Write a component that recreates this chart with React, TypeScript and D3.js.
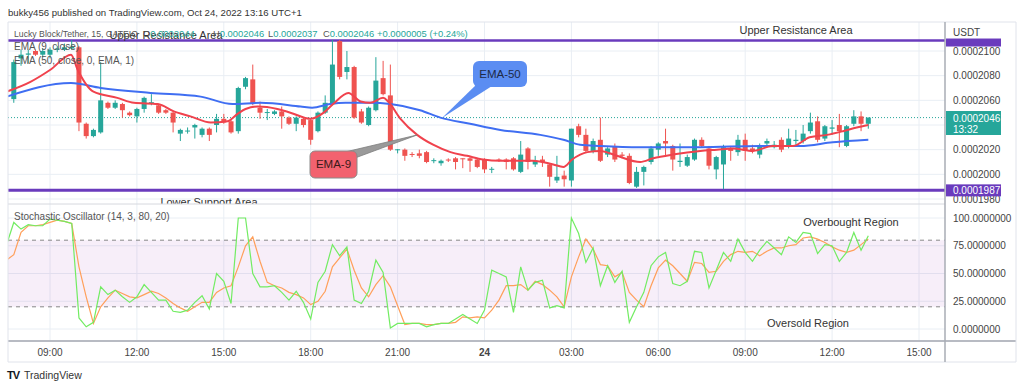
import React from "react";
import * as d3 from "d3";

// 15 min bars, Lucky Block / Tether, prices in 1e-7 USDT
const opens = [2061, 2094, 2097, 2100, 2097, 2097, 2101, 2101, 2102, 2103, 2041, 2031, 2034, 2058, 2054, 2057, 2050, 2047, 2053, 2058,
  2056, 2052, 2050, 2033, 2035, 2038, 2032, 2037, 2040, 2045, 2043, 2035, 2071, 2077, 2054, 2050, 2049, 2051, 2046, 2041,
  2045, 2044, 2035, 2050, 2057, 2108, 2083, 2087, 2051, 2040, 2052, 2078, 2064, 2020, 2020, 2016.5, 2017, 2018, 2011, 2009,
  2012, 2013, 2013, 2013, 2012, 2012, 2004, 2012, 2012, 2013, 2002, 2021, 2008, 2012, 2008, 1995, 1999, 1995, 2039, 2032,
  2019, 2028, 2016, 2023, 2016, 2015, 1990, 2002, 2010, 2020, 2027, 2023, 2010, 2007, 2012, 2028, 2021, 2004, 2008, 2021,
  2018, 2028, 2021, 2016, 2025, 2022, 2028, 2023, 2027, 2027, 2035, 2043, 2029, 2037, 2040, 2023, 2041, 2047, 2041];
const highs = [2093, 2101, 2101, 2101, 2102, 2103, 2104, 2106, 2109, 2104, 2042, 2037, 2091, 2059, 2060, 2058, 2051, 2054, 2063, 2065,
  2057, 2053, 2051, 2037, 2038, 2041, 2038, 2038, 2049, 2049, 2044, 2071, 2079, 2089, 2059, 2053, 2052, 2055, 2047, 2047,
  2046, 2045, 2051, 2064, 2109, 2109, 2100, 2088, 2053, 2055, 2095, 2092, 2089, 2020.5, 2021, 2018, 2020, 2019, 2013, 2012,
  2013, 2014, 2013, 2014, 2013, 2013, 2006, 2013, 2013, 2014, 2027, 2022, 2015, 2015, 2009, 2015, 2003, 2037, 2041, 2037,
  2029, 2046, 2022, 2025, 2018, 2017, 2006, 2007, 2023, 2026, 2037, 2024, 2025, 2016, 2029, 2030, 2023, 2015, 2024, 2023,
  2032, 2033, 2024, 2025, 2029, 2027, 2030, 2037, 2036, 2040, 2050, 2047, 2040, 2044, 2049, 2040, 2052, 2051, 2046];
const lows = [2058, 2088, 2090, 2096, 2095, 2094, 2099, 2100, 2101, 2035, 2029, 2030, 2033, 2053, 2053, 2046, 2047, 2042, 2050, 2056,
  2049, 2049, 2034, 2027, 2033, 2029, 2030, 2027, 2034, 2041, 2033, 2033, 2069, 2056, 2045, 2044, 2048, 2037, 2040, 2035,
  2038, 2024, 2034, 2049, 2056, 2077, 2077, 2045, 2041, 2039, 2051, 2064, 2019, 2017, 2011, 2014, 2013, 2009, 2009, 2007,
  2010, 2004, 2005, 2002, 2005, 2001, 2001, 2010, 2004, 2003, 2001, 2004, 2006, 2006, 1990, 1993, 1990, 1990, 2030, 2018,
  2017, 2010, 2014, 2010, 2013, 1992, 1989, 1991, 2008, 2015, 2015, 2003, 2006, 2006, 2011, 2022, 2004, 1996, 1988, 2011,
  2015, 2011, 2017, 2013, 2023, 2021, 2018, 2021, 2024, 2025, 2033, 2026, 2027, 2032, 2022, 2022, 2039, 2035, 2037];
const closes = [2091, 2097, 2098, 2097, 2100, 2101, 2102, 2103, 2103.5, 2042, 2031, 2036, 2060, 2054, 2058, 2052, 2048, 2053, 2062, 2058.5,
  2050, 2050, 2042, 2036, 2035.5, 2040, 2037, 2032, 2045, 2042, 2034, 2070, 2078, 2057, 2050, 2050.5, 2051, 2047, 2041, 2046,
  2040, 2028, 2050, 2058, 2089, 2079, 2087, 2046, 2042, 2054, 2076, 2065, 2020, 2020.3, 2015, 2016, 2015, 2010, 2011.5, 2011,
  2011.5, 2010, 2012.5, 2011, 2006, 2004, 2004.5, 2011.5, 2010, 2004, 2016, 2010, 2011, 2010, 1998, 1998, 1996, 2037, 2032, 2019,
  2027, 2011, 2021, 2012, 2015, 1993, 2002, 2006, 2021, 2025, 2025, 2012, 2011, 2014, 2028, 2023, 2007, 2014, 2022, 2019,
  2028, 2019, 2019, 2023, 2027, 2024, 2020, 2029, 2028, 2033, 2042, 2028, 2039, 2038, 2035, 2039, 2047, 2041, 2046];

// EMA lines: [bar index, value]
const ema9 = [[-1, 2067], [2.3, 2075], [5.1, 2085], [7.9, 2097], [8.8, 2085], [11, 2067], [14.3, 2062], [16.6, 2058], [19.9, 2057],
  [22.1, 2051], [24.4, 2047], [27.2, 2042], [29.5, 2043], [30.9, 2049], [32, 2053], [33.7, 2055], [36.4, 2053], [38.2, 2050],
  [41, 2045], [42.8, 2050], [44.1, 2057], [46.2, 2066], [47.9, 2059], [49.2, 2058], [51, 2062], [51.7, 2059], [53.4, 2045],
  [55.7, 2032], [57.9, 2024], [60.3, 2018], [62.6, 2015], [64.8, 2012], [67.2, 2011], [69.7, 2011], [71.7, 2011], [74.5, 2008],
  [75.9, 2006], [77.1, 2012], [79.2, 2018], [81, 2019], [83.3, 2015], [86.5, 2010], [88.3, 2013], [91, 2016], [94.8, 2019],
  [97.1, 2020], [99.3, 2021], [102.1, 2019], [104.8, 2023], [107.6, 2023], [109.9, 2030], [112.3, 2032], [114.5, 2035],
  [116.4, 2038], [118, 2040]];
const ema50 = [[-1, 2063], [7.9, 2074], [12, 2070], [18.9, 2066], [25.8, 2063], [30.2, 2057], [34.1, 2058], [39.6, 2055],
  [41.2, 2054], [43.7, 2057], [45.8, 2058], [49.2, 2058], [52, 2057], [56.1, 2052], [58.9, 2046], [63, 2041], [67.2, 2036],
  [72.7, 2032], [75.9, 2028], [78.2, 2024], [81, 2023], [86.5, 2022], [94.8, 2022], [103, 2023], [108.6, 2023], [113.1, 2026],
  [118, 2028]];

// stochastic, first value is the bar before the first candle
const stochK = [76, 96, 90, 94, 93, 93, 99, 98, 97, 95, 10, 2, 6, 38, 31, 35, 29, 24, 29, 40, 33, 26, 26, 16, 15, 17, 24, 30, 18, 50,
  43, 23, 100, 100, 50, 38, 38, 39, 33, 26, 34, 24, 9, 42, 52, 76, 66, 74, 26, 23, 34, 62, 51, 1, 5, 5, 5, 5, 2, 4, 5, 5, 9, 13,
  9, 5, 17, 53, 50, 47, 15, 56, 35, 42, 44, 19, 21, 19, 100, 86, 60, 73, 39, 57, 42, 52, 6, 20, 33, 57, 65, 69, 41, 39, 43, 70,
  69, 37, 53, 69, 61, 81, 69, 61, 71, 79, 73, 67, 83, 78, 87, 86, 68, 76, 75, 61, 69, 87, 71, 84];
const stochD = [62, 67, 87, 93, 93, 94, 96, 98, 97, 95, 56, 29, 5, 20, 28, 35, 32, 29, 28, 31, 34, 32, 28, 23, 19, 16, 20, 24, 24, 33,
  37, 39, 56, 75, 83, 61, 42, 39, 37, 33, 31, 28, 22, 25, 34, 56, 64, 72, 53, 37, 29, 40, 48, 38, 21, 4, 5, 5, 4, 4, 5, 5, 6, 11,
  10, 11, 10, 17, 26, 39, 39, 40, 35, 43, 40, 35, 29, 20, 47, 65, 81, 72, 58, 57, 47, 51, 33, 26, 20, 39, 55, 62, 57, 50, 43, 60,
  59, 51, 52, 61, 67, 70, 69, 70, 66, 70, 73, 73, 75, 76, 82, 83, 81, 78, 74, 71, 69, 71, 76, 81];

const priceTicks = [1980, 2000, 2020, 2040, 2060, 2080, 2100];
const stochTicks = [0, 25, 50, 75, 100];
const upperResistance = 2108.5;
const lowerSupport = 1987;
const lastPrice = 2046;

const GREEN = "#26a69a";
const RED = "#ef5350";
const PURPLE = "#6a3bbd";
const FONT = "'Liberation Sans', Arial, sans-serif";

const L = 8, R = 945, TOP = 22, PB = 204, SB = 341, AB = 362;

const t0 = new Date(2022, 9, 23, 7, 45);
const barTime = (i: number) => new Date(t0.getTime() + i * 15 * 60000);

export default function App() {
  const x = d3.scaleTime()
    .domain([new Date(2022, 9, 23, 9, 0), new Date(2022, 9, 24, 15, 0)])
    .range([50, 919]);
  const y = d3.scaleLinear().domain([1980, 2100]).range([199, 51]);
  const ys = d3.scaleLinear().domain([0, 100]).range([329, 218]);
  const bx = (i: number) => x(barTime(i));

  const timeTicks = d3.timeHour.every(3)!.range(new Date(2022, 9, 23, 9, 0), new Date(2022, 9, 24, 15, 1));
  const fmtTick = (d: Date) => d.getHours() === 0 ? d3.timeFormat("%-d")(d) : d3.timeFormat("%H:%M")(d);

  const emaLine = d3.line<number[]>().x(d => bx(d[0])).y(d => y(d[1])).curve(d3.curveMonotoneX);
  const stLine = d3.line<number>().x((d, i) => bx(i - 1)).y(d => ys(d));
  const fmtP = (v: number) => (v / 1e7).toFixed(7);

  const bw = 5;

  return (
    <svg width={1024} height={391} style={{ position: "absolute", left: 0, top: 0, background: "#fff" }}
      fontFamily={FONT}>
      <defs>
        <clipPath id="cp"><rect x={L} y={TOP} width={R - L} height={PB - TOP} /></clipPath>
        <clipPath id="cs"><rect x={L} y={PB + 1} width={R - L} height={SB - PB - 1} /></clipPath>
      </defs>
      <rect width={1024} height={391} fill="#fff" />
      <text x={8} y={16} fontSize={9.6} fill="#333">bukky456 published on TradingView.com, Oct 24, 2022 13:16 UTC+1</text>

      {/* grid */}
      {timeTicks.map((d, i) => (
        <line key={"vg" + i} x1={x(d)} x2={x(d)} y1={TOP} y2={SB} stroke="#e9eef4" />
      ))}
      {priceTicks.map(v => (
        <line key={"hg" + v} x1={L} x2={R} y1={y(v)} y2={y(v)} stroke="#e9eef4" />
      ))}
      {stochTicks.map(v => (
        <line key={"sg" + v} x1={L} x2={R} y1={ys(v)} y2={ys(v)} stroke="#e9eef4" />
      ))}

      {/* price panel */}
      <g clipPath="url(#cp)">
        <line x1={L} x2={R} y1={y(lastPrice)} y2={y(lastPrice)} stroke={GREEN} strokeDasharray="1,2" strokeWidth={1} />
        <line x1={L} x2={R} y1={y(upperResistance)} y2={y(upperResistance)} stroke={PURPLE} strokeWidth={2.5} />
        <line x1={L} x2={R} y1={y(lowerSupport)} y2={y(lowerSupport)} stroke={PURPLE} strokeWidth={3} />
        {opens.map((o, i) => {
          const c = closes[i];
          const col = c >= o ? GREEN : RED;
          const cx = bx(i);
          const yt = y(Math.max(o, c));
          const yb = y(Math.min(o, c));
          return (
            <g key={"c" + i}>
              <line x1={cx} x2={cx} y1={y(highs[i])} y2={y(lows[i])} stroke={col} strokeWidth={1} />
              <rect x={cx - bw / 2} y={yt} width={bw} height={Math.max(1, yb - yt)} fill={col} />
            </g>
          );
        })}
        <path d={emaLine(ema50)!} fill="none" stroke="#3f6ef2" strokeWidth={2} />
        <path d={emaLine(ema9)!} fill="none" stroke="#f0424d" strokeWidth={2} />
        <text x={166} y={39} fontSize={11} fill="#333" textAnchor="middle">Upper Resistance Area</text>
        <text x={796} y={34} fontSize={11} fill="#333" textAnchor="middle">Upper Resistance Area</text>
        <text x={209} y={206} fontSize={11} fill="#333" textAnchor="middle">Lower Support Area</text>

        {/* callouts */}
        <path d="M478,83 L492,86 L442,118 Z" fill="#5b8df2" />
        <rect x={473} y={61} width={54} height={26} rx={6} fill="#5b8df2" />
        <text x={500} y={78} fontSize={11.5} fill="#1d2a48" textAnchor="middle">EMA-50</text>
        <path d="M345,152 L355,158 L417,135 Z" fill="#9a9a9a" stroke="#7d7d7d" strokeWidth={0.8} />
        <rect x={310} y={151} width={47} height={27} rx={5} fill="#f2626f" stroke="#8a8a8a" strokeWidth={1} />
        <text x={333.5} y={168} fontSize={11.5} fill="#3a1a1a" textAnchor="middle">EMA-9</text>
      </g>

      {/* legend */}
      <text x={14} y={37} fontSize={9.4} fill="#555">
        <tspan textLength={124} lengthAdjust="spacingAndGlyphs">Lucky Block/Tether, 15, GATEIO</tspan>
        <tspan x={143}>O</tspan><tspan fill={GREEN}>0.0002044</tspan>
        <tspan x={213}>H</tspan><tspan fill={GREEN}>0.0002046</tspan>
        <tspan x={268}>L</tspan><tspan fill={GREEN}>0.0002037</tspan>
        <tspan x={323}>C</tspan><tspan fill={GREEN}>0.0002046</tspan>
        <tspan x={377} fill={GREEN}>+0.0000005 (+0.24%)</tspan>
      </text>
      <text x={14} y={50} fontSize={10} fill="#555">EMA (9, close)</text>
      <text x={14} y={64} fontSize={10} fill="#555">EMA (50, close, 0, EMA, 1)</text>

      {/* stochastic panel */}
      <g clipPath="url(#cs)">
        <rect x={L} y={ys(80)} width={R - L} height={ys(20) - ys(80)} fill="#9c27b0" fillOpacity={0.08} />
        <line x1={L} x2={R} y1={ys(80)} y2={ys(80)} stroke="#888" strokeDasharray="4,4" />
        <line x1={L} x2={R} y1={ys(20)} y2={ys(20)} stroke="#888" strokeDasharray="4,4" />
        <path d={stLine(stochD)!} fill="none" stroke="#ff9f5a" strokeWidth={1.2} />
        <path d={stLine(stochK)!} fill="none" stroke="#72ec62" strokeWidth={1.2} />
      </g>
      <text x={14} y={220} fontSize={10} fill="#555">Stochastic Oscillator (14, 3, 80, 20)</text>
      <text x={851} y={226} fontSize={11} fill="#333" textAnchor="middle">Overbought Region</text>
      <text x={808} y={327} fontSize={11} fill="#333" textAnchor="middle">Oversold Region</text>

      {/* frame */}
      <line x1={L} x2={1016} y1={TOP} y2={TOP} stroke="#e0e3eb" />
      <line x1={L} x2={R} y1={PB} y2={PB} stroke="#d6d8de" />
      <line x1={L} x2={1016} y1={SB} y2={SB} stroke="#b8bbc3" strokeWidth={2} />
      <line x1={L} x2={1016} y1={AB} y2={AB} stroke="#e0e3eb" />
      <line x1={L} x2={L} y1={TOP} y2={AB} stroke="#e0e3eb" />
      <line x1={1016} x2={1016} y1={TOP} y2={AB} stroke="#e0e3eb" />
      <line x1={R} x2={R} y1={TOP} y2={AB} stroke="#a9acb4" strokeWidth={1.5} />

      {/* price axis */}
      <rect x={R + 1} y={y(upperResistance) - 6} width={55} height={12} fill={PURPLE} />
      <rect x={R + 1} y={TOP + 1} width={60} height={y(upperResistance) - 3 - TOP} fill="#fff" />
      <text x={953} y={36} fontSize={10} fill="#444">USDT</text>
      {priceTicks.filter(v => v !== 2040).map(v => (
        <text key={"pt" + v} x={953} y={y(v) + 3.5} fontSize={10} fill="#444">{fmtP(v)}</text>
      ))}
      <rect x={R + 1} y={y(lowerSupport) - 6} width={55} height={12} fill={PURPLE} />
      <text x={953} y={y(lowerSupport) + 3.5} fontSize={10} fill="#fff">{fmtP(lowerSupport)}</text>
      <rect x={R + 1} y={111} width={55} height={24} fill={GREEN} />
      <text x={953} y={122} fontSize={10} fill="#fff">{fmtP(lastPrice)}</text>
      <text x={953} y={133} fontSize={10} fill="#fff">13:32</text>
      {stochTicks.map(v => (
        <text key={"st" + v} x={953} y={ys(v) + 3.5} fontSize={10} fill="#444">{v.toFixed(7)}</text>
      ))}

      {/* time axis */}
      {timeTicks.map((d, i) => (
        <text key={"tt" + i} x={x(d)} y={356} fontSize={10} fill="#444" textAnchor="middle"
          fontWeight={d.getHours() === 0 ? "bold" : "normal"}>{fmtTick(d)}</text>
      ))}

      {/* logo */}
      <text x={7} y={379} fontSize={11} fontWeight="bold" fill="#131722" letterSpacing={-1}>TV</text>
      <text x={24} y={379} fontSize={10.5} fill="#333">TradingView</text>
    </svg>
  );
}
